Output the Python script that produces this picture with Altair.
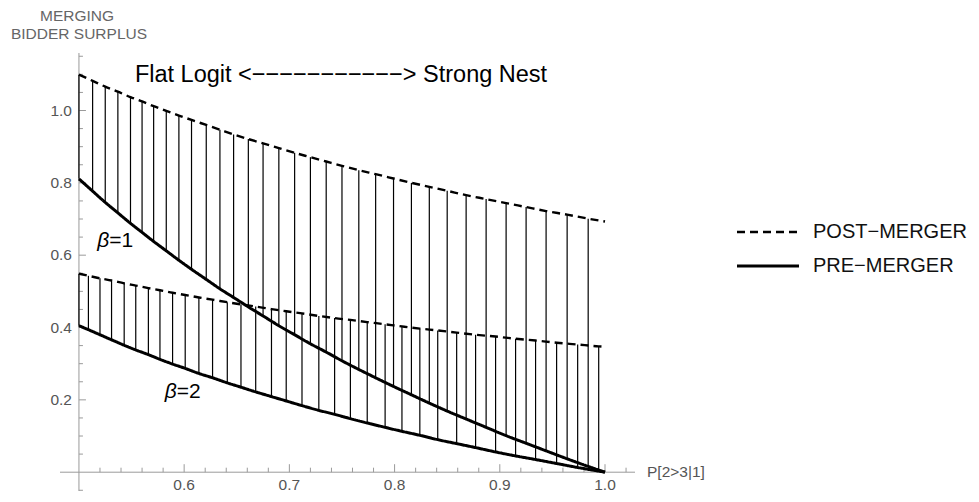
import altair as alt
import pandas as pd

# ---- data ----
# beta = 1 : positions of the vertical fill lines (+ curve end at 1.0)
X1 = [0.500, 0.513, 0.525, 0.537, 0.549, 0.560, 0.571, 0.583, 0.595, 0.607, 0.621, 0.634,
      0.647, 0.661, 0.675, 0.690, 0.705, 0.720, 0.735, 0.750, 0.766, 0.782, 0.799, 0.816,
      0.833, 0.850, 0.868, 0.887, 0.906, 0.925, 0.944, 0.964, 0.984, 1.000]
POST1 = [1.099, 1.082, 1.066, 1.052, 1.037, 1.025, 1.012, 0.999, 0.986, 0.974, 0.960, 0.947,
         0.934, 0.921, 0.909, 0.896, 0.883, 0.871, 0.859, 0.847, 0.835, 0.824, 0.812, 0.800,
         0.789, 0.778, 0.766, 0.755, 0.744, 0.733, 0.722, 0.712, 0.701, 0.693]
PRE1 = [0.811, 0.777, 0.746, 0.717, 0.688, 0.663, 0.638, 0.612, 0.586, 0.561, 0.533, 0.507,
        0.483, 0.457, 0.432, 0.405, 0.380, 0.355, 0.332, 0.308, 0.284, 0.261, 0.237, 0.214,
        0.191, 0.169, 0.147, 0.124, 0.101, 0.080, 0.059, 0.037, 0.016, 0.000]

# beta = 2
X2 = [0.500, 0.509, 0.520, 0.531, 0.543, 0.554, 0.566, 0.577, 0.589, 0.601, 0.614, 0.627,
      0.641, 0.654, 0.668, 0.683, 0.697, 0.712, 0.728, 0.743, 0.758, 0.774, 0.791, 0.807,
      0.824, 0.841, 0.859, 0.877, 0.896, 0.915, 0.934, 0.954, 0.974, 0.994, 1.000]
POST2 = [0.549, 0.543, 0.536, 0.530, 0.522, 0.516, 0.509, 0.503, 0.496, 0.490, 0.483, 0.477,
         0.470, 0.464, 0.458, 0.451, 0.445, 0.439, 0.432, 0.426, 0.421, 0.415, 0.409, 0.403,
         0.397, 0.392, 0.386, 0.380, 0.375, 0.369, 0.364, 0.358, 0.353, 0.348, 0.347]
PRE2 = [0.405, 0.394, 0.380, 0.366, 0.351, 0.338, 0.325, 0.312, 0.299, 0.287, 0.273, 0.261,
        0.247, 0.235, 0.222, 0.209, 0.197, 0.184, 0.171, 0.160, 0.148, 0.136, 0.124, 0.113,
        0.102, 0.090, 0.079, 0.068, 0.056, 0.045, 0.035, 0.024, 0.013, 0.003, 0.000]

SERIES = ["POST\u2212MERGER", "PRE\u2212MERGER"]

X_MAJOR = [0.6, 0.7, 0.8, 0.9, 1.0]
X_LABELS = ["0.6", "0.7", "0.8", "0.9", "1.0"]
X_MINOR = [0.52, 0.54, 0.56, 0.58, 0.62, 0.64, 0.66, 0.68, 0.72, 0.74, 0.76, 0.78,
           0.82, 0.84, 0.86, 0.88, 0.92, 0.94, 0.96, 0.98, 1.02]
Y_MAJOR = [0.2, 0.4, 0.6, 0.8, 1.0]
Y_LABELS = ["0.2", "0.4", "0.6", "0.8", "1.0"]
Y_MINOR = [-0.05, 0.05, 0.1, 0.15, 0.25, 0.3, 0.35, 0.45, 0.5, 0.55, 0.65, 0.7, 0.75,
           0.85, 0.9, 0.95, 1.05, 1.1, 1.15]

X_DOMAIN = [0.482, 1.0285]
Y_DOMAIN = [-0.052, 1.159]
X_ORIGIN = 0.5
Y_ORIGIN = 0.0

ANNOT_TEXT = "Flat Logit <" + "\u2212" * 11 + "> Strong Nest"
BETA_LABELS = ["=1", "=2"]
BETA_X = [0.5288, 0.5929]
BETA_Y = [0.6235, 0.2044]

FONT = "Liberation Sans"
AXIS_GRAY = "#9a9a9a"
LABEL_GRAY = "#555555"

# ---- tables ----
lines_rows = []
for b, xs_, post, pre in [("1", X1, POST1, PRE1), ("2", X2, POST2, PRE2)]:
    for xv, po, pr in zip(xs_, post, pre):
        lines_rows.append({"x": xv, "y": po, "beta": b, "type": SERIES[0]})
        lines_rows.append({"x": xv, "y": pr, "beta": b, "type": SERIES[1]})
lines_df = pd.DataFrame(lines_rows)

rules_df = pd.concat([
    pd.DataFrame({"x": X1, "pre": PRE1, "post": POST1}),
    pd.DataFrame({"x": X2, "pre": PRE2, "post": POST2}),
])
rules_df = rules_df[rules_df["x"] < 1.0]

xs = alt.Scale(domain=X_DOMAIN, nice=False, zero=False)
ys = alt.Scale(domain=Y_DOMAIN, nice=False, zero=False)


def X(f):
    return alt.X(f, scale=xs, axis=None)


def Y(f):
    return alt.Y(f, scale=ys, axis=None)


# ---- axes (Mathematica style, crossing at (0.5, 0)) ----
xaxis_df = pd.DataFrame({"a": [X_DOMAIN[0]], "b": [X_DOMAIN[1]], "o": [Y_ORIGIN]})
yaxis_df = pd.DataFrame({"a": [Y_DOMAIN[0]], "b": [Y_DOMAIN[1]], "o": [X_ORIGIN]})
x_axis_line = alt.Chart(xaxis_df).mark_rule(color=AXIS_GRAY, strokeWidth=1).encode(
    x=X("a:Q"), x2="b:Q", y=Y("o:Q"))
y_axis_line = alt.Chart(yaxis_df).mark_rule(color=AXIS_GRAY, strokeWidth=1).encode(
    y=Y("a:Q"), y2="b:Q", x=X("o:Q"))

xmaj_df = pd.DataFrame({"v": X_MAJOR, "o": [Y_ORIGIN] * len(X_MAJOR), "t": X_LABELS})
xmin_df = pd.DataFrame({"v": X_MINOR, "o": [Y_ORIGIN] * len(X_MINOR)})
ymaj_df = pd.DataFrame({"v": Y_MAJOR, "o": [X_ORIGIN] * len(Y_MAJOR), "t": Y_LABELS})
ymin_df = pd.DataFrame({"v": Y_MINOR, "o": [X_ORIGIN] * len(Y_MINOR)})

x_major_ticks = alt.Chart(xmaj_df).mark_rule(color=AXIS_GRAY, y2Offset=-8).encode(
    x=X("v:Q"), y=Y("o:Q"), y2="o:Q")
x_minor_ticks = alt.Chart(xmin_df).mark_rule(color=AXIS_GRAY, y2Offset=-4.5).encode(
    x=X("v:Q"), y=Y("o:Q"), y2="o:Q")
y_major_ticks = alt.Chart(ymaj_df).mark_rule(color=AXIS_GRAY, x2Offset=7).encode(
    y=Y("v:Q"), x=X("o:Q"), x2="o:Q")
y_minor_ticks = alt.Chart(ymin_df).mark_rule(color=AXIS_GRAY, x2Offset=4).encode(
    y=Y("v:Q"), x=X("o:Q"), x2="o:Q")

x_labels = alt.Chart(xmaj_df).mark_text(
    font=FONT, fontSize=15.5, color=LABEL_GRAY, baseline="alphabetic", dy=18).encode(
    x=X("v:Q"), y=Y("o:Q"), text="t:N")
y_labels = alt.Chart(ymaj_df).mark_text(
    font=FONT, fontSize=15.5, color=LABEL_GRAY, align="right", baseline="middle", dx=-7).encode(
    y=Y("v:Q"), x=X("o:Q"), text="t:N")

xt_df = pd.DataFrame({"t": ["P[2>3|1]"], "x": [X_DOMAIN[1]], "y": [Y_ORIGIN]})
x_title = alt.Chart(xt_df).mark_text(
    font=FONT, fontSize=15.5, color=LABEL_GRAY, align="left", baseline="middle", dx=12).encode(
    x=X("x:Q"), y=Y("y:Q"), text="t:N")
y_title1 = alt.Chart(pd.DataFrame({"t": ["MERGING"]})).mark_text(
    font=FONT, fontSize=15.5, color="#666666", align="center", baseline="middle",
    x=17, y=-37).encode(text="t:N")
y_title2 = alt.Chart(pd.DataFrame({"t": ["BIDDER SURPLUS"]})).mark_text(
    font=FONT, fontSize=15.5, color="#666666", align="center", baseline="middle",
    x=19, y=-19).encode(text="t:N")

# ---- fill lines ----
rules = alt.Chart(rules_df).mark_rule(color="black", strokeWidth=1.2).encode(
    x=X("x:Q"), y=Y("pre:Q"), y2="post:Q")

# ---- curves ----
curves = alt.Chart(lines_df).mark_line(color="black", interpolate="monotone").encode(
    x=X("x:Q"),
    y=Y("y:Q"),
    detail="beta:N",
    strokeDash=alt.StrokeDash(
        "type:N",
        scale=alt.Scale(domain=SERIES, range=[[8, 5], [1, 0]]),
        legend=alt.Legend(
            title=None, orient="none", legendX=691, legendY=162,
            symbolType="M-2,0H2", symbolSize=961, symbolStrokeWidth=2.6,
            symbolStrokeColor="black",
            labelFont=FONT, labelFontSize=20, labelColor="#111111",
            labelLimit=400, labelOffset=28, rowPadding=7)),
    strokeWidth=alt.StrokeWidth(
        "type:N", scale=alt.Scale(domain=SERIES, range=[2.4, 3.0]), legend=None),
)

# ---- annotations ----
annot_df = pd.DataFrame({"t": [ANNOT_TEXT], "x": [0.5532], "y": [1.078]})
annot = alt.Chart(annot_df).mark_text(
    font=FONT, fontSize=23.5, color="black", align="left", baseline="alphabetic").encode(
    x=X("x:Q"), y=Y("y:Q"), text="t:N")

beta_df = pd.DataFrame({"x": BETA_X, "y": BETA_Y, "t": BETA_LABELS, "s": ["\u03b2", "\u03b2"]})
beta_sym = alt.Chart(beta_df).mark_text(
    font=FONT, fontSize=21, fontStyle="italic", color="black", align="right",
    baseline="alphabetic").encode(x=X("x:Q"), y=Y("y:Q"), text="s:N")
beta_txt = alt.Chart(beta_df).mark_text(
    font=FONT, fontSize=21, color="black", align="left", baseline="alphabetic").encode(
    x=X("x:Q"), y=Y("y:Q"), text="t:N")

chart = alt.layer(
    x_axis_line, y_axis_line, x_major_ticks, x_minor_ticks, y_major_ticks, y_minor_ticks,
    rules, curves, x_labels, y_labels, x_title, y_title1, y_title2, annot, beta_sym, beta_txt,
).properties(
    width=575, height=438,
    autosize=alt.AutoSizeParams(type="none"),
    padding={"left": 52, "top": 45, "right": 335, "bottom": 3},
).configure(background="white").configure_view(stroke=None)

chart.save("out.html", embed_options={"renderer": "svg", "actions": False})
